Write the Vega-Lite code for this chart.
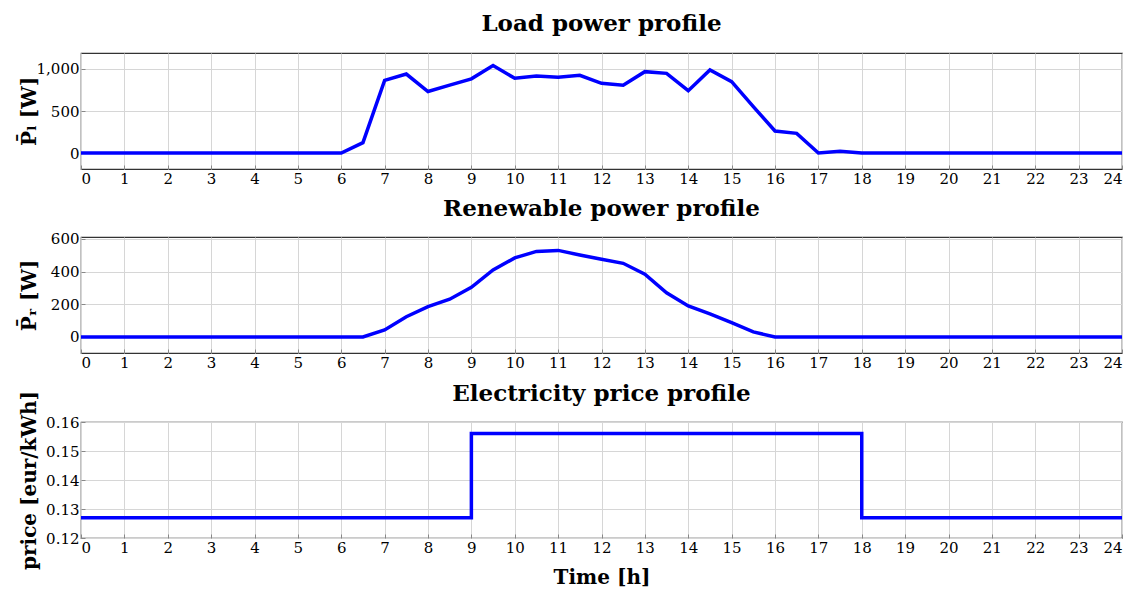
{
  "$schema": "https://vega.github.io/schema/vega-lite/v6.json",
  "padding": {"left": 18, "top": 12, "right": 5, "bottom": 5},
  "background": "white",
  "spacing": 10,
  "config": {
    "font": "DejaVu Serif",
    "view": {"stroke": "#333", "strokeWidth": 1.2},
    "title": {"fontSize": 23, "fontWeight": "bold", "color": "black", "font": "DejaVu Serif", "offset": 10},
    "axis": {
      "labelFont": "DejaVu Serif", "labelFontSize": 15, "labelColor": "black",
      "titleFont": "DejaVu Serif", "titleFontSize": 20, "titleFontWeight": "bold", "titleColor": "black",
      "gridColor": "#d6d6d6", "gridWidth": 1, "domain": false,
      "tickColor": "#888", "tickSize": -4, "labelPadding": 6
    },
    "axisY": {"titleX": -46, "titleBaseline": "alphabetic"},
    "line": {"color": "#0000ff", "strokeWidth": 3.5}
  },
  "datasets": {
    "load": [
      {"t": 0, "p": 0}, {"t": 0.5, "p": 0}, {"t": 1, "p": 0}, {"t": 1.5, "p": 0}, {"t": 2, "p": 0}, {"t": 2.5, "p": 0},
      {"t": 3, "p": 0}, {"t": 3.5, "p": 0}, {"t": 4, "p": 0}, {"t": 4.5, "p": 0}, {"t": 5, "p": 0}, {"t": 5.5, "p": 0},
      {"t": 6, "p": 0}, {"t": 6.5, "p": 123}, {"t": 7, "p": 865}, {"t": 7.5, "p": 940}, {"t": 8, "p": 732},
      {"t": 8.5, "p": 808}, {"t": 9, "p": 883}, {"t": 9.5, "p": 1040}, {"t": 10, "p": 889}, {"t": 10.5, "p": 915},
      {"t": 11, "p": 901}, {"t": 11.5, "p": 925}, {"t": 12, "p": 829}, {"t": 12.5, "p": 806}, {"t": 13, "p": 968},
      {"t": 13.5, "p": 948}, {"t": 14, "p": 742}, {"t": 14.5, "p": 988}, {"t": 15, "p": 849}, {"t": 15.5, "p": 553},
      {"t": 16, "p": 262}, {"t": 16.5, "p": 234}, {"t": 17, "p": 0}, {"t": 17.5, "p": 20}, {"t": 18, "p": 0},
      {"t": 18.5, "p": 0}, {"t": 19, "p": 0}, {"t": 19.5, "p": 0}, {"t": 20, "p": 0}, {"t": 20.5, "p": 0},
      {"t": 21, "p": 0}, {"t": 21.5, "p": 0}, {"t": 22, "p": 0}, {"t": 22.5, "p": 0}, {"t": 23, "p": 0},
      {"t": 23.5, "p": 0}, {"t": 24, "p": 0}
    ],
    "renewable": [
      {"t": 0, "p": 0}, {"t": 0.5, "p": 0}, {"t": 1, "p": 0}, {"t": 1.5, "p": 0}, {"t": 2, "p": 0}, {"t": 2.5, "p": 0},
      {"t": 3, "p": 0}, {"t": 3.5, "p": 0}, {"t": 4, "p": 0}, {"t": 4.5, "p": 0}, {"t": 5, "p": 0}, {"t": 5.5, "p": 0},
      {"t": 6, "p": 0}, {"t": 6.5, "p": 0}, {"t": 7, "p": 43}, {"t": 7.5, "p": 124}, {"t": 8, "p": 186},
      {"t": 8.5, "p": 231}, {"t": 9, "p": 304}, {"t": 9.5, "p": 410}, {"t": 10, "p": 484}, {"t": 10.5, "p": 524},
      {"t": 11, "p": 530}, {"t": 11.5, "p": 502}, {"t": 12, "p": 476}, {"t": 12.5, "p": 451}, {"t": 13, "p": 384},
      {"t": 13.5, "p": 271}, {"t": 14, "p": 190}, {"t": 14.5, "p": 141}, {"t": 15, "p": 88}, {"t": 15.5, "p": 31},
      {"t": 16, "p": 0}, {"t": 16.5, "p": 0}, {"t": 17, "p": 0}, {"t": 17.5, "p": 0}, {"t": 18, "p": 0},
      {"t": 18.5, "p": 0}, {"t": 19, "p": 0}, {"t": 19.5, "p": 0}, {"t": 20, "p": 0}, {"t": 20.5, "p": 0},
      {"t": 21, "p": 0}, {"t": 21.5, "p": 0}, {"t": 22, "p": 0}, {"t": 22.5, "p": 0}, {"t": 23, "p": 0},
      {"t": 23.5, "p": 0}, {"t": 24, "p": 0}
    ],
    "price": [
      {"t": 0, "p": 0.127}, {"t": 9, "p": 0.156}, {"t": 18, "p": 0.127}, {"t": 24, "p": 0.127}
    ]
  },
  "vconcat": [
    {
      "title": {"text": "Load power profile", "offset": 17},
      "width": 1041, "height": 116,
      "data": {"name": "load"},
      "mark": {"type": "line"},
      "encoding": {
        "x": {"field": "t", "type": "quantitative", "scale": {"domain": [0, 24], "nice": false},
              "axis": {"values": [0,1,2,3,4,5,6,7,8,9,10,11,12,13,14,15,16,17,18,19,20,21,22,23,24], "title": null, "format": "d"}},
        "y": {"field": "p", "type": "quantitative", "scale": {"domain": [-190, 1190], "nice": false, "zero": false},
              "axis": {"values": [0, 500, 1000], "format": ",d", "title": "P̄ₗ [W]"}}
      }
    },
    {
      "title": {"text": "Renewable power profile", "offset": 11},
      "width": 1041, "height": 116,
      "data": {"name": "renewable"},
      "mark": {"type": "line"},
      "encoding": {
        "x": {"field": "t", "type": "quantitative", "scale": {"domain": [0, 24], "nice": false},
              "axis": {"values": [0,1,2,3,4,5,6,7,8,9,10,11,12,13,14,15,16,17,18,19,20,21,22,23,24], "title": null, "format": "d"}},
        "y": {"field": "p", "type": "quantitative", "scale": {"domain": [-98, 612], "nice": false, "zero": false},
              "axis": {"values": [0, 200, 400, 600], "format": "d", "title": "P̄ᵣ [W]"}}
      }
    },
    {
      "title": {"text": "Electricity price profile", "offset": -15},
      "width": 1041, "height": 116,
      "data": {"name": "price"},
      "mark": {"type": "line", "interpolate": "step-after"},
      "encoding": {
        "x": {"field": "t", "type": "quantitative", "scale": {"domain": [0, 24], "nice": false},
              "axis": {"values": [0,1,2,3,4,5,6,7,8,9,10,11,12,13,14,15,16,17,18,19,20,21,22,23,24], "title": "Time [h]", "format": "d", "titlePadding": 12}},
        "y": {"field": "p", "type": "quantitative", "scale": {"domain": [0.12, 0.16], "nice": false, "zero": false},
              "axis": {"values": [0.12, 0.13, 0.14, 0.15, 0.16], "format": ".2f", "title": "price [eur/kWh]"}}
      }
    }
  ]
}
